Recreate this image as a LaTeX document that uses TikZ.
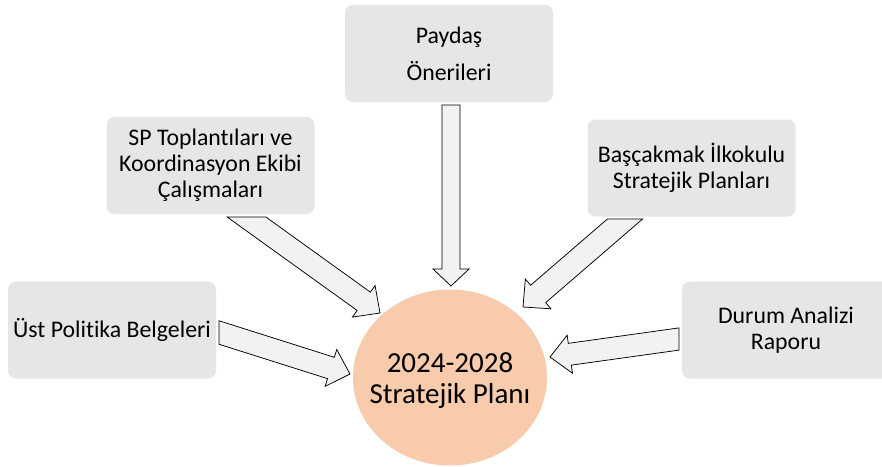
\documentclass[tikz,border=0pt]{standalone}
\usepackage{fontspec}
\setmainfont{Carlito}[Ligatures={NoCommon}]
\usetikzlibrary{calc,shapes.geometric}
\definecolor{boxgray}{HTML}{E7E6E6}
\definecolor{arrowgray}{HTML}{F2F2F2}
\definecolor{peach}{HTML}{F8CBAD}
% #1 start, #2 tip, #3 half shaft, #4 half head, #5 head length, #6--#7 cut line
\newcommand{\blockarr}[7]{%
  \coordinate (bH) at ($(#2)!#5!(#1)$);
  \coordinate (bL1) at ($(#1)!#3!90:(#2)$);
  \coordinate (bL2) at ($(bH)!#3!-90:(#1)$);
  \coordinate (bR1) at ($(#1)!#3!-90:(#2)$);
  \coordinate (bR2) at ($(bH)!#3!90:(#1)$);
  \coordinate (bHL) at ($(bH)!#4!-90:(#1)$);
  \coordinate (bHR) at ($(bH)!#4!90:(#1)$);
  \draw[blockarrow] (intersection of bL1--bL2 and #6--#7) -- (bL2) -- (bHL) -- (#2)
     -- (bHR) -- (bR2) -- (intersection of bR1--bR2 and #6--#7) -- cycle;
}
\begin{document}
\begin{tikzpicture}[x=1pt,y=-1pt,
  srcbox/.style={rectangle, rounded corners=8pt, fill=boxgray, minimum width=208pt,
     minimum height=97pt, align=center, inner sep=0pt, text=black,
     font=\fontsize{23.8}{26}\selectfont},
  goal/.style={ellipse, fill=peach, minimum width=194pt, minimum height=176pt,
     inner sep=0pt},
  goaltext/.style={align=center, inner sep=0pt, text=black,
     font=\fontsize{29}{31}\selectfont},
  blockarrow/.style={draw=black, line width=0.75pt, fill=arrowgray, line join=miter}]
\clip (0,0) rectangle (882,466);
\fill[white] (0,0) rectangle (882,466);

\node[srcbox, font=\fontsize{23.8}{37}\selectfont] (pay) at (449,53.5) {Paydaş\\Önerileri};
\node[srcbox] (sp) at (210.5,165.5) {SP Toplantıları ve\\Koordinasyon Ekibi\\Çalışmaları};
\node[srcbox] (bas) at (691.5,168) {Başçakmak İlkokulu\\Stratejik Planları};
\node[srcbox] (ust) at (112,330) {Üst Politika Belgeleri};
\node[srcbox] (dur) at (786,330) {Durum Analizi\\Raporu};
\node[goal] (plan) at (450,377.5) {};
\node[goaltext] (plantext) at ([yshift=-3.5pt]plan.center) {2024-2028\\Stratejik Planı};

% arrow start points, tips and cut lines
\coordinate (s1) at (451,105);   \coordinate (t1) at (451,286);
\coordinate (c1a) at (0,105);    \coordinate (c1b) at (882,105);
\coordinate (s2) at (246.5,217); \coordinate (t2) at (380,313);
\coordinate (c2a) at (0,217);    \coordinate (c2b) at (882,217);
\coordinate (s3) at (219,332.5); \coordinate (t3) at (350,374);
\coordinate (c3a) at (219,0);    \coordinate (c3b) at (219,466);
\coordinate (s4) at (625,219);   \coordinate (t4) at (523,307);
\coordinate (c4a) at (0,219);    \coordinate (c4b) at (882,219);
\coordinate (s5) at (679,339);   \coordinate (t5) at (550,357);
\coordinate (c5a) at (679,0);    \coordinate (c5b) at (679,466);

\blockarr{s1}{t1}{9pt}{18pt}{17pt}{c1a}{c1b}
\blockarr{s2}{t2}{11.3pt}{19.4pt}{20pt}{c2a}{c2b}
\blockarr{s3}{t3}{11.2pt}{19.3pt}{20pt}{c3a}{c3b}
\blockarr{s4}{t4}{11.5pt}{19.6pt}{20pt}{c4a}{c4b}
\blockarr{s5}{t5}{11pt}{19.2pt}{20pt}{c5a}{c5b}
\end{tikzpicture}
\end{document}
